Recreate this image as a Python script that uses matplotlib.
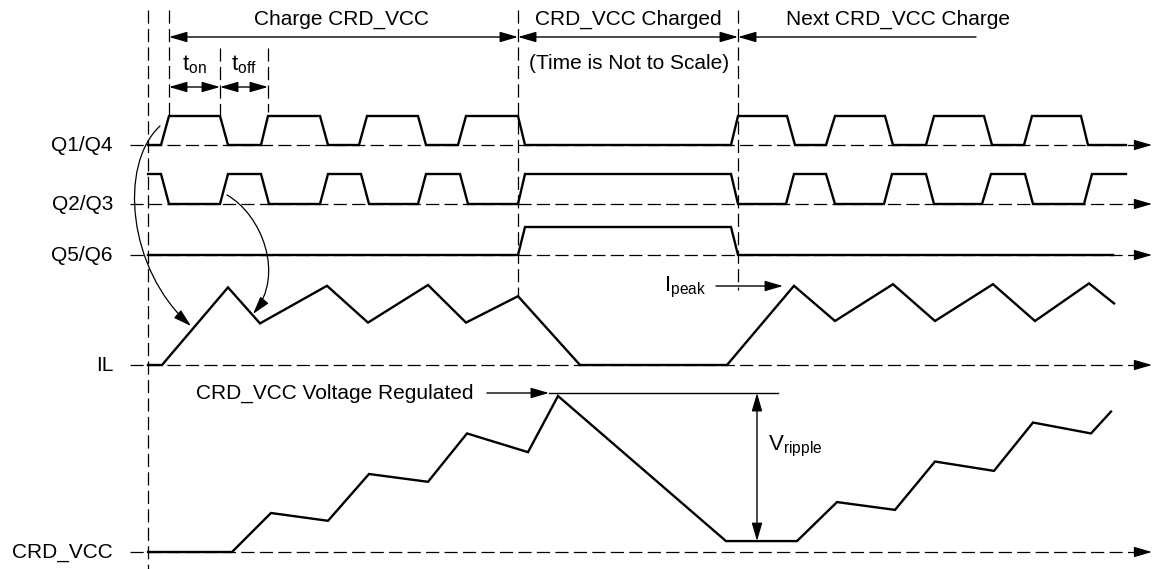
import matplotlib
matplotlib.use('Agg')
import matplotlib.pyplot as plt
from matplotlib.patches import FancyArrowPatch
from matplotlib.path import Path

plt.rcParams['font.family'] = ['Liberation Sans', 'DejaVu Sans']
plt.rcParams['mathtext.fontset'] = 'custom'
plt.rcParams['mathtext.rm'] = 'Liberation Sans'
plt.rcParams['mathtext.it'] = 'Liberation Sans:italic'
plt.rcParams['lines.scale_dashes'] = False

# ---------------- data ----------------
signal_names = ['Q1/Q4', 'Q2/Q3', 'Q5/Q6', 'IL', 'CRD_VCC']

q14_t = [148, 161, 169, 220, 228, 261, 268, 320, 328, 359, 367, 418, 426, 458, 466, 518, 525,
         731, 738, 787, 795, 826, 835, 885, 893, 926, 934, 984, 992, 1024, 1032, 1081, 1088, 1126]
q14_l = [0, 0, 1, 1, 0, 0, 1, 1, 0, 0, 1, 1, 0, 0, 1, 1, 0,
         0, 1, 1, 0, 0, 1, 1, 0, 0, 1, 1, 0, 0, 1, 1, 0, 0]

q23_t = [148, 161, 169, 220, 228, 261, 269, 320, 328, 361, 369, 418, 426, 460, 468, 518, 525,
         731, 738, 786, 794, 826, 835, 884, 892, 926, 934, 982, 991, 1025, 1033, 1084, 1092, 1126]
q23_l = [1, 1, 0, 0, 1, 1, 0, 0, 1, 1, 0, 0, 1, 1, 0, 0, 1,
         1, 0, 0, 1, 1, 0, 0, 1, 1, 0, 0, 1, 1, 0, 0, 1, 1]

q56_t = [148, 518, 525, 731, 738, 1113]
q56_l = [0, 0, 1, 1, 0, 0]

il_t = [148, 162, 228, 260, 327, 368, 428, 466, 518, 580, 727, 794, 835, 893, 935, 993, 1035, 1089, 1114]
il_l = [0, 0, 0.97, 0.52, 0.99, 0.53, 1.0, 0.53, 0.86, 0, 0, 0.99, 0.55, 1.01, 0.55, 1.01, 0.55, 1.02, 0.77]

vcc_t = [148, 232, 271, 328, 369, 428, 467, 528, 558, 726, 797, 837, 895, 935, 994, 1033, 1091, 1111]
vcc_l = [0, 0, 0.25, 0.20, 0.50, 0.45, 0.76, 0.64, 1.0, 0.07, 0.07, 0.32, 0.27, 0.58, 0.52, 0.83, 0.76, 0.90]

# time markers
t_start, t_charge, t_on_end, t_off_end, t_charged, t_next = 148, 169, 220, 268, 518, 738

# ---------------- layout ----------------
row_base = {'Q1/Q4': 145, 'Q2/Q3': 204, 'Q5/Q6': 255, 'IL': 365, 'CRD_VCC': 552}
row_height = {'Q1/Q4': 29, 'Q2/Q3': 30, 'Q5/Q6': 28, 'IL': 80, 'CRD_VCC': 156}
FS = 15
SIG_LW = 1.7
DASH = (0, (9.5, 3.8))
K = 'black'

fig = plt.figure(figsize=(11.52, 5.69), dpi=100)
ax = fig.add_axes([0, 0, 1, 1])
ax.set_xlim(0, 1152)
ax.set_ylim(569, 0)
ax.axis('off')


def ypos(name, levels):
    return [row_base[name] - l * row_height[name] for l in levels]


def arrow(p0, p1, style='-|>', lw=1.0, hl=0.55, hw=0.16):
    a = FancyArrowPatch(p0, p1, arrowstyle=f'{style},head_length={hl},head_width={hw}',
                        mutation_scale=20, lw=lw, color=K, shrinkA=0, shrinkB=0)
    ax.add_patch(a)


def curve(verts, lw=0.9):
    codes = [Path.MOVETO, Path.CURVE4, Path.CURVE4, Path.CURVE4]
    a = FancyArrowPatch(path=Path(verts, codes), arrowstyle='-|>,head_length=0.55,head_width=0.16',
                        mutation_scale=20, lw=lw, color=K)
    ax.add_patch(a)


# baselines with arrows
for name in signal_names:
    y = row_base[name]
    ax.plot([130, 1140], [y, y], ls=DASH, lw=0.9, color=K)
    arrow((1136, y), (1152, y), lw=0.9)
    ax.text(113, y, name, ha='right', va='center', fontsize=FS)

# vertical dashed markers
vlines = [(t_start, 10, 569), (t_charge, 10, 116), (t_on_end, 48, 116), (t_off_end, 48, 112),
          (t_charged, 10, 296), (t_next, 10, 290)]
for x, y0, y1 in vlines:
    ax.plot([x, x], [y0, y1], ls=DASH, lw=0.9, color=K)

# waveforms
ax.plot(q14_t, ypos('Q1/Q4', q14_l), color=K, lw=SIG_LW, solid_joinstyle='miter')
ax.plot(q23_t, ypos('Q2/Q3', q23_l), color=K, lw=SIG_LW, solid_joinstyle='miter')
ax.plot(q56_t, ypos('Q5/Q6', q56_l), color=K, lw=SIG_LW, solid_joinstyle='miter')
ax.plot(il_t, ypos('IL', il_l), color=K, lw=SIG_LW, solid_joinstyle='miter')
ax.plot(vcc_t, ypos('CRD_VCC', vcc_l), color=K, lw=SIG_LW, solid_joinstyle='miter')

# top annotations
ax.text((t_charge + t_charged) / 2 - 2, 19, 'Charge CRD_VCC', ha='center', va='center', fontsize=FS)
ax.text((t_charged + t_next) / 2, 19, 'CRD_VCC Charged', ha='center', va='center', fontsize=FS)
ax.text(898, 19, 'Next CRD_VCC Charge', ha='center', va='center', fontsize=FS)
ax.text((t_charged + t_next) / 2 + 1, 63, '(Time is Not to Scale)', ha='center', va='center', fontsize=FS)
arrow((t_charge, 37), (t_charged, 37), style='<|-|>')
arrow((t_charged, 37), (t_next, 37), style='<|-|>')
arrow((976, 37), (t_next, 37))

ax.text((t_charge + t_on_end) / 2, 65, r'$\mathregular{t_{on}}$', ha='center', va='center', fontsize=FS + 1)
ax.text((t_on_end + t_off_end) / 2, 65, r'$\mathregular{t_{off}}$', ha='center', va='center', fontsize=FS + 1)
arrow((t_charge, 87), (t_on_end, 87), style='<|-|>')
arrow((t_on_end, 87), (t_off_end, 87), style='<|-|>')

# Ipeak
ax.text(706, 287, r'$\mathregular{I_{peak}}$', ha='right', va='center', fontsize=FS + 1)
arrow((716, 286), (783, 286))

# regulated / ripple
reg_y = ypos('CRD_VCC', [1.0])[0] - 3
ax.text(474, reg_y, 'CRD_VCC Voltage Regulated', ha='right', va='center', fontsize=FS)
arrow((487, reg_y), (549, reg_y))
ax.plot([549, 778], [reg_y, reg_y], color=K, lw=1.0)
bot_y = ypos('CRD_VCC', [0.07])[0]
arrow((757, reg_y), (757, bot_y), style='<|-|>')
ax.text(768, 446, r'$\mathregular{V_{ripple}}$', ha='left', va='center', fontsize=FS + 1)

# curved arrows
curve([(160, 126), (118, 165), (128, 270), (191, 326)])
curve([(227, 195), (262, 215), (285, 275), (253, 314)])

fig.savefig('out.png', dpi=100)
